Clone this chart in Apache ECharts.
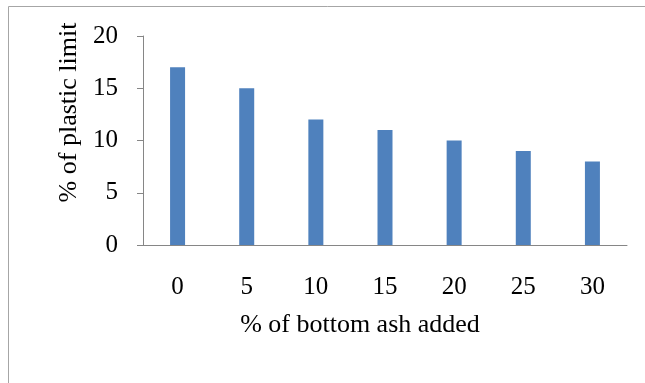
<!DOCTYPE html>
<html><head><meta charset="utf-8">
<script src="https://cdn.jsdelivr.net/npm/echarts@6/dist/echarts.min.js"></script>
<style>html,body{margin:0;padding:0;background:#fff}#c{width:645px;height:383px}</style>
</head><body><div id="c"></div>
<script>
var categories = ['0','5','10','15','20','25','30'];
var plasticLimit = [17, 15, 12, 11, 10, 9, 8];
var yTicks = [0, 5, 10, 15, 20];
var chart = echarts.init(document.getElementById('c'));
var font = '"Liberation Serif","Times New Roman",serif';
chart.setOption({
  animation: false,
  graphic: [{type:'rect', shape:{x:8.5,y:6.5,width:700,height:450}, style:{fill:'none', stroke:'#a6a6a6', lineWidth:1}, silent:true}],
  grid: {left:143, right:18, top:36, bottom:138, containLabel:false},
  xAxis: {
    type:'category', data: categories,
    axisLine:{lineStyle:{color:'#868686', width:1}},
    axisTick:{show:false},
    axisLabel:{color:'#000', fontFamily:font, fontSize:25, margin:30},
    name:'% of bottom ash added', nameLocation:'middle', nameGap:67,
    nameTextStyle:{color:'#000', fontFamily:font, fontSize:26, padding:[0,50,0,0]}
  },
  yAxis: {
    type:'value', min:yTicks[0], max:yTicks[yTicks.length-1], interval:5,
    axisLine:{show:true, lineStyle:{color:'#868686', width:1}},
    axisTick:{show:true, length:6, lineStyle:{color:'#868686'}},
    splitLine:{show:false},
    axisLabel:{color:'#000', fontFamily:font, fontSize:25, margin:25},
    name:'% of plastic limit', nameLocation:'middle', nameGap:59,
    nameTextStyle:{color:'#000', fontFamily:font, fontSize:26, padding:[0,0,0,56]}
  },
  series: [{type:'bar', data: plasticLimit, barWidth:15, itemStyle:{color:'#4f81bd'}}]
});
</script></body></html>
